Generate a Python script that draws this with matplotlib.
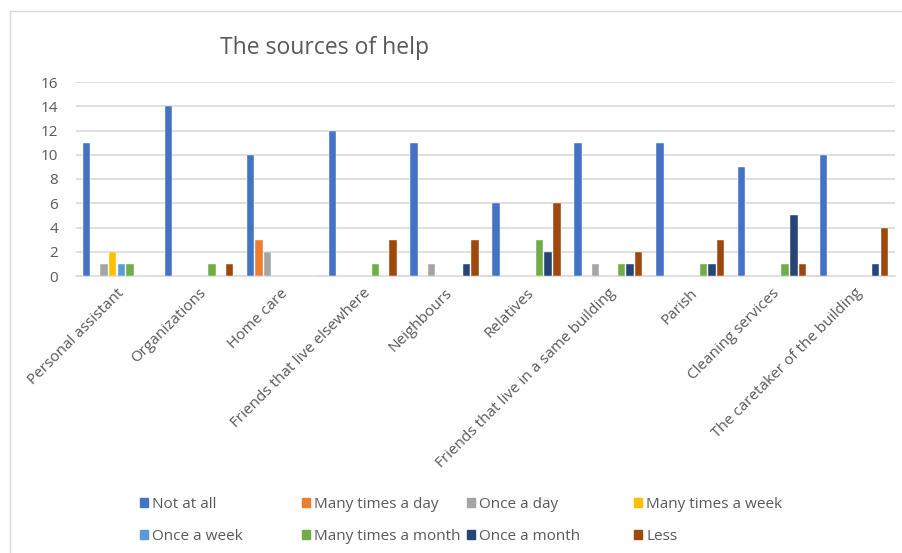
import matplotlib.pyplot as plt
import numpy as np
from matplotlib.patches import Patch
from matplotlib.lines import Line2D

plt.rcParams['font.family'] = ['Open Sans', 'DejaVu Sans']

# data
categories = ['Personal assistant', 'Organizations', 'Home care',
              'Friends that live elsewhere', 'Neighbours', 'Relatives',
              'Friends that live in a same building', 'Parish',
              'Cleaning services', 'The caretaker of the building']
series = ['Not at all', 'Many times a day', 'Once a day', 'Many times a week',
          'Once a week', 'Many times a month', 'Once a month', 'Less']
not_at_all        = [11, 14, 10, 12, 11, 6, 11, 11, 9, 10]
many_times_day    = [0, 0, 3, 0, 0, 0, 0, 0, 0, 0]
once_day          = [1, 0, 2, 0, 1, 0, 1, 0, 0, 0]
many_times_week   = [2, 0, 0, 0, 0, 0, 0, 0, 0, 0]
once_week         = [1, 0, 0, 0, 0, 0, 0, 0, 0, 0]
many_times_month  = [1, 1, 0, 1, 0, 3, 1, 1, 1, 0]
once_month        = [0, 0, 0, 0, 1, 2, 1, 1, 5, 1]
less              = [0, 1, 0, 3, 3, 6, 2, 3, 1, 4]
values = [not_at_all, many_times_day, once_day, many_times_week,
          once_week, many_times_month, once_month, less]
colors = ['#4472C4', '#ED7D31', '#A5A5A5', '#FFC000',
          '#5B9BD5', '#70AD47', '#264478', '#9E480E']

txt = '#595959'
grid = '#D9D9D9'

fig = plt.figure(figsize=(9.03, 5.53), dpi=100)
ax = fig.add_axes([76/903, 1-276/553, (895-76)/903, (276-82)/553])

x = np.arange(len(categories))
slot = 0.106
for i, (name, vals) in enumerate(zip(series, values)):
    ax.bar(x + (i - 3.5)*slot, vals, width=0.09, color=colors[i],
           edgecolor='white', linewidth=0.3, label=name, zorder=3)

ax.set_xlim(-0.5, len(categories) - 0.5)
ax.set_ylim(0, 16)
ax.set_yticks(range(0, 17, 2))
ax.yaxis.grid(True, color=grid, linewidth=1.2, zorder=0)
for s in ['top', 'right', 'left']:
    ax.spines[s].set_visible(False)
ax.spines['bottom'].set_color(grid)
ax.spines['bottom'].set_linewidth(1.2)
ax.tick_params(length=0, labelsize=11, colors=txt)
ax.tick_params(axis='y', pad=13)
ax.set_xticks(x)
ax.set_xticklabels(categories, rotation=45, ha='right', va='top',
                   rotation_mode='anchor')
ax.tick_params(axis='x', pad=7)

fig.text(325/903, 1-48/553, 'The sources of help', ha='center', va='center',
         fontsize=16.5, color=txt)

# legend laid out like Excel: rows filled first, equal column widths
handles = [Patch(color=c) for c in colors]
col_x = [140, 302, 467, 634]
for j in range(4):
    leg = fig.legend([handles[j], handles[j+4]], [series[j], series[j+4]],
                     loc='upper left', bbox_to_anchor=(col_x[j]/903, 1-497/553),
                     frameon=False, fontsize=11, labelcolor=txt,
                     handlelength=0.55, handleheight=0.55, handletextpad=0.25,
                     labelspacing=1.1, borderaxespad=0, borderpad=0)

# chart frame
fig.add_artist(Line2D([10/903, 1], [1-11/553, 1-11/553], color=grid, lw=1))
fig.add_artist(Line2D([10/903, 10/903], [0, 1-11/553], color=grid, lw=1))

fig.savefig('out.png', dpi=100)
